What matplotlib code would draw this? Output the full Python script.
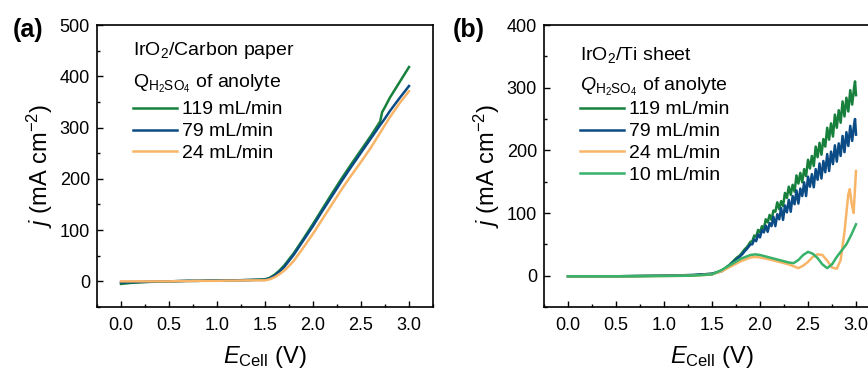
import matplotlib
matplotlib.use('Agg')
import matplotlib.pyplot as plt
from matplotlib.ticker import MultipleLocator

plt.rcParams['font.family'] = ['Liberation Sans', 'DejaVu Sans']
plt.rcParams['mathtext.fontset'] = 'custom'
plt.rcParams['mathtext.rm'] = 'Liberation Sans'
plt.rcParams['mathtext.it'] = 'Liberation Sans:italic'
plt.rcParams['mathtext.bf'] = 'Liberation Sans:bold'

# ---- data: panel (a) IrO2/Carbon paper ----
E_a = [0.0, 0.1, 0.2, 0.3, 0.4, 0.5, 0.6, 0.7, 0.8, 0.9, 1.0, 1.1, 1.2, 1.3, 1.4,
       1.5, 1.55, 1.6, 1.65, 1.7, 1.75, 1.8, 1.9, 2.0, 2.1, 2.2, 2.3, 2.4, 2.5,
       2.6, 2.7, 2.72, 2.75, 2.8, 2.9, 3.0]
j_a_119 = [-5, -3, -2, -1, -0.5, 0, 0.5, 1, 1, 1.5, 1.5, 2, 2, 2.5, 3,
           4, 7, 13, 21, 31, 43, 55, 83, 112, 142, 172, 201, 229, 256,
           283, 312, 330, 340, 358, 388, 418]
j_a_79 = [-2, -1.5, -1, -0.5, 0, 0, 0.5, 1, 1, 1.5, 1.5, 2, 2, 2.5, 3,
          3, 6, 11, 19, 28, 40, 52, 80, 108, 138, 167, 196, 224, 251,
          278, 305, 310, 318, 332, 357, 381]
j_a_24 = [0, 0, 0, 0, 0, 0, 0.5, 0.5, 1, 1, 1, 1.5, 1.5, 2, 2,
          2, 4, 8, 14, 21, 30, 40, 66, 93, 122, 151, 180, 207, 233,
          260, 290, 296, 305, 320, 347, 371]

# ---- data: panel (b) IrO2/Ti sheet ----
E_b_fast = [0.0, 0.5, 1.0, 1.3, 1.5, 1.6, 1.62, 1.64, 1.66, 1.68, 1.70, 1.72, 1.74,
            1.76, 1.78, 1.80, 1.82, 1.84, 1.86, 1.88, 1.90, 1.92, 1.94, 1.96, 1.98,
            2.00, 2.02, 2.04, 2.06, 2.08, 2.10, 2.12, 2.14, 2.16, 2.18, 2.20, 2.22,
            2.24, 2.26, 2.28, 2.30, 2.32, 2.34, 2.36, 2.38, 2.40, 2.42, 2.44, 2.46,
            2.48, 2.50, 2.52, 2.54, 2.56, 2.58, 2.60, 2.62, 2.64, 2.66, 2.68, 2.70,
            2.72, 2.74, 2.76, 2.78, 2.80, 2.82, 2.84, 2.86, 2.88, 2.90, 2.92, 2.94,
            2.96, 2.98, 2.99, 3.00]
j_b_119 = [-1, -1, 0, 1, 3, 8, 10, 12, 15, 17, 20, 23, 26,
           29, 31, 34, 38, 42, 45, 49, 54, 55, 64, 62, 73,
           69, 79, 75, 90, 85, 97, 89, 104, 102, 117, 106, 119,
           111, 132, 124, 142, 129, 145, 134, 160, 147, 164, 149, 170,
           159, 185, 171, 191, 175, 206, 189, 212, 193, 218, 206, 236,
           217, 243, 222, 257, 236, 264, 244, 278, 254, 284, 262, 296,
           273, 300, 310, 288]
j_b_79 = [-1, -1, 0, 1, 3, 7, 9, 11, 14, 16, 19, 21, 24,
          27, 29, 32, 35, 39, 42, 46, 50, 50, 58, 55, 66,
          61, 73, 69, 80, 70, 84, 79, 94, 79, 98, 90, 108,
          89, 112, 101, 121, 102, 127, 114, 136, 115, 139, 127, 149,
          127, 158, 142, 162, 141, 170, 153, 179, 155, 183, 165, 194,
          167, 198, 178, 208, 182, 211, 191, 223, 197, 229, 207, 239,
          215, 241, 250, 225]

E_b_24 = [0.0, 0.5, 1.0, 1.3, 1.5, 1.6, 1.7, 1.8, 1.9, 1.95, 2.0, 2.1, 2.2, 2.3,
          2.35, 2.4, 2.45, 2.5, 2.55, 2.6, 2.65, 2.7, 2.75, 2.8, 2.84, 2.88,
          2.92, 2.935, 2.955, 2.975, 2.99, 3.0]
j_b_24 = [-1, -1, -0.5, 0, 2, 7, 15, 23, 29, 30, 29, 26, 22, 18,
          15, 12, 16, 22, 30, 34, 33, 24, 13, 11, 25, 70,
          130, 138, 115, 100, 140, 167]
E_b_10 = [0.0, 0.5, 1.0, 1.3, 1.5, 1.6, 1.7, 1.8, 1.9, 1.95, 2.0, 2.1, 2.2, 2.3,
          2.35, 2.4, 2.45, 2.5, 2.55, 2.6, 2.65, 2.7, 2.75, 2.8, 2.85, 2.9, 2.95, 3.0]
j_b_10 = [-1, -1, -0.5, 0, 2, 9, 18, 27, 33, 34, 33, 29, 25, 21,
          20, 25, 33, 38, 35, 28, 18, 12, 18, 30, 40, 50, 65, 82]

c119 = '#17803c'
c79 = '#0b4c86'
c24 = '#f8b467'
c10 = '#38b26a'

fig = plt.figure(figsize=(8.68, 3.69), dpi=100)
ax1 = fig.add_axes([97 / 868, 62 / 369, 336 / 868, 282 / 369])
ax2 = fig.add_axes([544 / 868, 62 / 369, 336 / 868, 282 / 369])

lw = 1.8
ax1.plot(E_a, j_a_119, color=c119, lw=lw, label='119 mL/min')
ax1.plot(E_a, j_a_79, color=c79, lw=lw, label='79 mL/min')
ax1.plot(E_a, j_a_24, color=c24, lw=lw, label='24 mL/min')

ax2.plot(E_b_fast, j_b_119, color=c119, lw=lw, label='119 mL/min')
ax2.plot(E_b_fast, j_b_79, color=c79, lw=lw, label='79 mL/min')
ax2.plot(E_b_24, j_b_24, color=c24, lw=lw, label='24 mL/min')
ax2.plot(E_b_10, j_b_10, color=c10, lw=lw, label='10 mL/min')

ax1.set_ylim(-50, 500)
ax2.set_ylim(-50, 400)

for ax in (ax1, ax2):
    ax.set_xlim(-0.25, 3.25)
    ax.xaxis.set_major_locator(MultipleLocator(0.5))
    ax.xaxis.set_minor_locator(MultipleLocator(0.25))
    ax.yaxis.set_major_locator(MultipleLocator(100))
    ax.yaxis.set_minor_locator(MultipleLocator(50))
    ax.tick_params(which='both', direction='in', labelsize=13, width=1)
    ax.tick_params(which='major', length=4)
    ax.tick_params(which='minor', length=2.5)
    ax.tick_params(axis='x', pad=7)
    ax.tick_params(axis='y', pad=5)
    for s in ax.spines.values():
        s.set_linewidth(1.2)
    ax.set_xlabel('$E_{\\mathrm{Cell}}$ (V)', fontsize=17)
    ax.set_ylabel('$j$ (mA cm$^{-2}$)', fontsize=17)
    ax.xaxis.set_label_coords(0.5, -0.13)
    ax.yaxis.set_label_coords(-0.125, 0.5)
    ax.legend(loc='upper left', bbox_to_anchor=(0.107, 0.731), frameon=False,
              fontsize=14, handlelength=2.27, handletextpad=0.26,
              labelspacing=0.22, borderpad=0, borderaxespad=0)

ax1.text(0.107, 0.911, 'IrO$_2$/Carbon paper', transform=ax1.transAxes,
         fontsize=14, va='center', ha='left')
ax1.text(0.107, 0.79, '$\\mathrm{Q}_{\\mathrm{H_2SO_4}}$ of anolyte', transform=ax1.transAxes,
         fontsize=14, va='center', ha='left')
ax2.text(0.107, 0.894, 'IrO$_2$/Ti sheet', transform=ax2.transAxes,
         fontsize=14, va='center', ha='left')
ax2.text(0.107, 0.78, '$Q_{\\mathrm{H_2SO_4}}$ of anolyte', transform=ax2.transAxes,
         fontsize=14, va='center', ha='left')

fig.text(28 / 868, 1 - 30 / 369, '(a)', fontsize=18, fontweight='bold',
         ha='center', va='center')
fig.text(469 / 868, 1 - 30 / 369, '(b)', fontsize=18, fontweight='bold',
         ha='center', va='center')

fig.savefig('out.png', dpi=100)
